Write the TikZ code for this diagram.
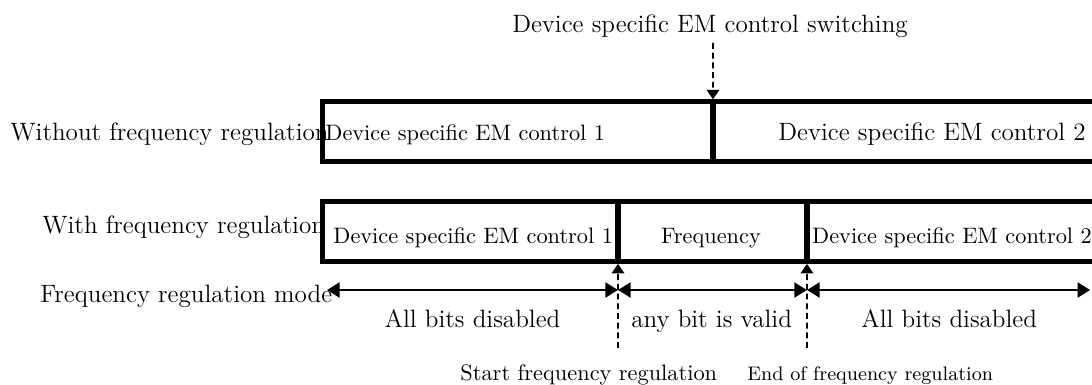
\documentclass[tikz,border=0pt]{standalone}
\usepackage{fontspec}
\usepackage{tikz}
\usetikzlibrary{arrows.meta}
\tikzset{
  segbox/.style={rectangle, draw, line width=2.4pt, minimum height=1cm, inner sep=0pt, outer sep=0pt, anchor=south west},
  bigtxt/.style={font=\fontsize{11.9}{14}\selectfont, inner sep=0pt},
  midtxt/.style={font=\fontsize{10.6}{13}\selectfont, inner sep=0pt},
  smalltxt/.style={font=\fontsize{9.3}{11}\selectfont, inner sep=0pt},
  modearrow/.style={{Triangle[length=6pt,width=7pt]}-{Triangle[length=6pt,width=7pt]}, line width=1.4pt},
  markarrow/.style={-{Triangle[length=4.5pt,width=6pt]}, line width=0.8pt, dash pattern=on 2.8pt off 1.8pt, shorten >=1.2pt},
}

\begin{document}
\begin{tikzpicture}
  \useasboundingbox (0,0) rectangle (18.2,6.4167);

  % Without frequency regulation
  \node[segbox, minimum width=6.503cm] (ctrlA) at (5.38,3.72) {};
  \node[segbox, minimum width=6.617cm] (ctrlB) at (11.883,3.72) {};
  \node[bigtxt, anchor=base west] (nofreqlbl) at (0.167,4.083) {Without frequency regulation};
  \node[midtxt, anchor=base west] (ctrlAtxt) at (5.417,4.083) {Device specific EM control 1};
  \node[bigtxt, anchor=base west] (ctrlBtxt) at (12.967,4.083) {Device specific EM control 2};

  % Switching point
  \node[bigtxt, anchor=base] (switchlbl) at (11.833,5.867) {Device specific EM control switching};
  \coordinate (switchtop) at (11.883,5.7);
  \draw[markarrow] (switchtop) -- (ctrlA.north east);

  % With frequency regulation
  \node[segbox, minimum width=4.92cm] (ctrlC) at (5.38,2.06) {};
  \node[segbox, minimum width=3.15cm] (ctrlD) at (10.3,2.06) {};
  \node[segbox, minimum width=5.05cm] (ctrlE) at (13.45,2.06) {};
  \node[bigtxt, anchor=base west] (freqlbl) at (0.7,2.517) {With frequency regulation};
  \node[midtxt, anchor=base west] (ctrlCtxt) at (5.55,2.35) {Device specific EM control 1};
  \node[midtxt, anchor=base] (ctrlDtxt) at (11.85,2.35) {Frequency};
  \node[midtxt, anchor=base west] (ctrlEtxt) at (13.53,2.35) {Device specific EM control 2};

  % Frequency regulation mode
  \node[bigtxt, anchor=base west] (modelbl) at (0.667,1.367) {Frequency regulation mode};
  \coordinate (modeL) at (5.45,1.583);
  \coordinate (modeS) at (10.3,1.583);
  \coordinate (modeE) at (13.45,1.583);
  \coordinate (modeR) at (18.17,1.583);
  \draw[modearrow] (modeL) -- (modeS);
  \draw[modearrow] (modeS) -- (modeE);
  \draw[modearrow] (modeE) -- (modeR);
  \node[bigtxt, anchor=base] (offAtxt) at (7.875,0.95) {All bits disabled};
  \node[bigtxt, anchor=base] (validtxt) at (11.86,0.95) {any bit is valid};
  \node[bigtxt, anchor=base] (offBtxt) at (15.82,0.95) {All bits disabled};

  % Start / end markers
  \coordinate (startmark) at (10.3,0.617);
  \coordinate (endmark) at (13.45,0.617);
  \draw[markarrow] (startmark) -- (ctrlC.south east);
  \draw[markarrow] (endmark) -- (ctrlD.south east);
  \node[midtxt, anchor=base west] (starttxt) at (7.667,0.067) {Start frequency regulation};
  \node[smalltxt, anchor=base west] (endtxt) at (12.45,0.067) {End of frequency regulation};
\end{tikzpicture}
\end{document}
